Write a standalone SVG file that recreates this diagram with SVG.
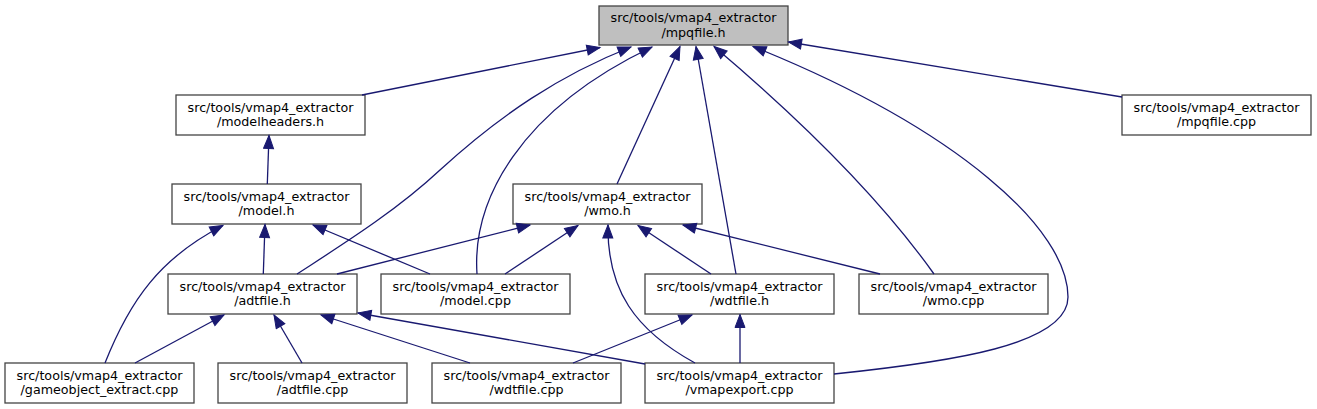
<svg xmlns="http://www.w3.org/2000/svg" width="1317" height="409" viewBox="0 0 1317 409">
<style>
.box{fill:#ffffff;stroke:#444444;stroke-width:1.3}
.cur{fill:#bfbfbf}
.lbl{font-family:"DejaVu Sans","Liberation Sans",sans-serif;font-size:12.7px;fill:#000000;text-anchor:middle}
.e{fill:none;stroke:#191970;stroke-width:1.3;marker-end:url(#ah)}
</style>
<defs>
<marker id="ah" markerUnits="userSpaceOnUse" markerWidth="16" markerHeight="12" refX="13" refY="5" orient="auto" viewBox="-1 -1 16 12">
<path d="M0,0 L13,5 L0,10 z" fill="#191970" stroke="#191970" stroke-width="1"/>
</marker>
</defs>
<rect width="1317" height="409" fill="#ffffff"/>
<g id="nodes">
<g id="n_mpqfile_h"><rect class="box cur" x="599" y="6" width="189" height="39"/><text class="lbl" x="693.5" y="22">src/tools/vmap4_extractor</text><text class="lbl" x="693.5" y="36.5">/mpqfile.h</text></g>
<g id="n_modelheaders_h"><rect class="box" x="176" y="95" width="189" height="40"/><text class="lbl" x="270.5" y="111.5">src/tools/vmap4_extractor</text><text class="lbl" x="270.5" y="126">/modelheaders.h</text></g>
<g id="n_mpqfile_cpp"><rect class="box" x="1122" y="95" width="189" height="40"/><text class="lbl" x="1216.5" y="111.5">src/tools/vmap4_extractor</text><text class="lbl" x="1216.5" y="126">/mpqfile.cpp</text></g>
<g id="n_model_h"><rect class="box" x="172" y="184" width="189" height="40"/><text class="lbl" x="266.5" y="200.5">src/tools/vmap4_extractor</text><text class="lbl" x="266.5" y="215">/model.h</text></g>
<g id="n_wmo_h"><rect class="box" x="513" y="184" width="189" height="40"/><text class="lbl" x="607.5" y="200.5">src/tools/vmap4_extractor</text><text class="lbl" x="607.5" y="215">/wmo.h</text></g>
<g id="n_adtfile_h"><rect class="box" x="168" y="274" width="189" height="40"/><text class="lbl" x="262.5" y="290.5">src/tools/vmap4_extractor</text><text class="lbl" x="262.5" y="305">/adtfile.h</text></g>
<g id="n_model_cpp"><rect class="box" x="381" y="274" width="189" height="40"/><text class="lbl" x="475.5" y="290.5">src/tools/vmap4_extractor</text><text class="lbl" x="475.5" y="305">/model.cpp</text></g>
<g id="n_wdtfile_h"><rect class="box" x="645" y="274" width="189" height="40"/><text class="lbl" x="739.5" y="290.5">src/tools/vmap4_extractor</text><text class="lbl" x="739.5" y="305">/wdtfile.h</text></g>
<g id="n_wmo_cpp"><rect class="box" x="859" y="274" width="189" height="40"/><text class="lbl" x="953.5" y="290.5">src/tools/vmap4_extractor</text><text class="lbl" x="953.5" y="305">/wmo.cpp</text></g>
<g id="n_gameobject_extract_cpp"><rect class="box" x="5" y="363" width="189" height="40"/><text class="lbl" x="99.5" y="379.5">src/tools/vmap4_extractor</text><text class="lbl" x="99.5" y="394">/gameobject_extract.cpp</text></g>
<g id="n_adtfile_cpp"><rect class="box" x="218" y="363" width="189" height="40"/><text class="lbl" x="312.5" y="379.5">src/tools/vmap4_extractor</text><text class="lbl" x="312.5" y="394">/adtfile.cpp</text></g>
<g id="n_wdtfile_cpp"><rect class="box" x="432" y="363" width="189" height="40"/><text class="lbl" x="526.5" y="379.5">src/tools/vmap4_extractor</text><text class="lbl" x="526.5" y="394">/wdtfile.cpp</text></g>
<g id="n_vmapexport_cpp"><rect class="box" x="645" y="363" width="189" height="40"/><text class="lbl" x="739.5" y="379.5">src/tools/vmap4_extractor</text><text class="lbl" x="739.5" y="394">/vmapexport.cpp</text></g>
</g>
<g id="connectors">
<path class="e" d="M362,95 L600,47.5"/>
<path class="e" d="M1122,97 L788.5,42"/>
<path class="e" d="M617,184 L680,46.5"/>
<path class="e" d="M736,274 L696,46.5"/>
<path class="e" d="M934,274 Q860,170 714,46.5"/>
<path class="e" d="M834,374 C950,362 1068,345 1068,297 C1068,230 960,130 753,46.5"/>
<path class="e" d="M297,274 C340,246 395,212 440,170 C500,115 560,75 631,47"/>
<path class="e" d="M477,274 C472,200 520,110 652,47"/>
<path class="e" d="M267.3,184 L269,135.5"/>
<path class="e" d="M263.3,274 L265,224.5"/>
<path class="e" d="M105,363 C130,300 160,258 223,225.5"/>
<path class="e" d="M430,274 L313,225"/>
<path class="e" d="M337,274 L530,225"/>
<path class="e" d="M505,274 L578,225.5"/>
<path class="e" d="M695,363 C635,330 607,290 608,225"/>
<path class="e" d="M711,274 L638,225.5"/>
<path class="e" d="M880,274 L683,225"/>
<path class="e" d="M135,363 L224,315"/>
<path class="e" d="M302,363 L274,315"/>
<path class="e" d="M470,363 L321,315"/>
<path class="e" d="M645,364 L358,313"/>
<path class="e" d="M573,363 L692,315"/>
<path class="e" d="M740,363 L740,314.5"/>
</g>
</svg>
